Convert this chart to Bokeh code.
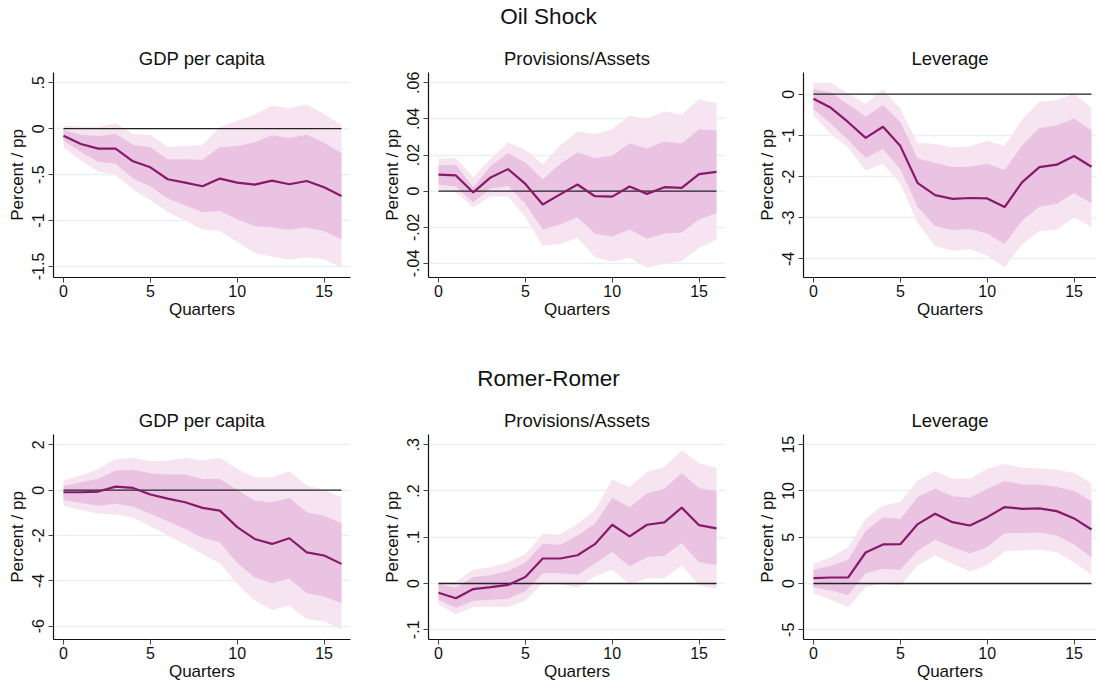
from bokeh.plotting import figure
from bokeh.layouts import column, row
from bokeh.models import FixedTicker, Label, Range1d
from bokeh.embed import file_html
from bokeh.resources import INLINE

FONT = "Liberation Sans"

quarters = list(range(17))
zero_line = [0] * 17

# ---------------- Oil Shock ----------------
oil_gdp_irf = [-0.076, -0.167, -0.217, -0.217, -0.355, -0.42, -0.55, -0.587, -0.627, -0.543, -0.587, -0.609, -0.565, -0.605, -0.569, -0.638, -0.732]
oil_gdp_in_hi = [-0.014, -0.065, -0.08, -0.058, -0.174, -0.203, -0.333, -0.333, -0.337, -0.203, -0.188, -0.149, -0.072, -0.1, -0.065, -0.152, -0.268]
oil_gdp_in_lo = [-0.13, -0.254, -0.359, -0.38, -0.543, -0.63, -0.76, -0.833, -0.909, -0.895, -0.986, -1.06, -1.076, -1.10, -1.076, -1.116, -1.203]
oil_gdp_out_hi = [0.033, 0.02, 0.018, 0.058, -0.058, -0.069, -0.196, -0.188, -0.174, 0.014, 0.087, 0.152, 0.25, 0.225, 0.264, 0.159, 0.043]
oil_gdp_out_lo = [-0.203, -0.348, -0.467, -0.504, -0.663, -0.775, -0.906, -1.0, -1.098, -1.116, -1.232, -1.355, -1.39, -1.428, -1.40, -1.42, -1.514]

oil_prov_irf = [0.0092, 0.0087, -0.0007, 0.0076, 0.0122, 0.004, -0.0074, -0.0018, 0.0037, -0.0028, -0.003, 0.0026, -0.0015, 0.0022, 0.0018, 0.0094, 0.0107]
oil_prov_in_hi = [0.0142, 0.0146, 0.0022, 0.014, 0.021, 0.0159, 0.0066, 0.0151, 0.0214, 0.0183, 0.0196, 0.0264, 0.0236, 0.0275, 0.0264, 0.0343, 0.0336]
oil_prov_in_lo = [0.0037, 0.0026, -0.0061, 0.0015, 0.0028, -0.007, -0.0212, -0.0185, -0.0144, -0.0236, -0.0251, -0.0212, -0.0264, -0.0234, -0.0229, -0.0157, -0.0122]
oil_prov_out_hi = [0.0179, 0.0183, 0.0077, 0.0179, 0.0269, 0.0229, 0.0151, 0.0253, 0.033, 0.0317, 0.0343, 0.0417, 0.04, 0.0443, 0.0424, 0.0507, 0.0487]
oil_prov_out_lo = [0.0007, -0.0006, -0.0092, -0.003, -0.003, -0.0144, -0.0303, -0.0292, -0.0258, -0.0365, -0.0391, -0.0369, -0.0424, -0.0402, -0.0386, -0.0314, -0.0269]

oil_lev_irf = [-0.11, -0.33, -0.68, -1.06, -0.79, -1.26, -2.16, -2.45, -2.54, -2.52, -2.53, -2.74, -2.14, -1.77, -1.71, -1.50, -1.76]
oil_lev_in_hi = [0.12, 0.04, -0.25, -0.54, -0.26, -0.68, -1.56, -1.67, -1.77, -1.76, -1.69, -1.84, -1.25, -0.82, -0.76, -0.59, -0.88]
oil_lev_in_lo = [-0.36, -0.72, -1.11, -1.55, -1.33, -1.82, -2.74, -3.2, -3.30, -3.27, -3.38, -3.64, -3.07, -2.73, -2.66, -2.40, -2.65]
oil_lev_out_hi = [0.28, 0.28, 0.01, -0.23, 0.12, -0.36, -1.18, -1.21, -1.29, -1.27, -1.13, -1.26, -0.62, -0.19, -0.14, 0.01, -0.32]
oil_lev_out_lo = [-0.52, -0.96, -1.30, -1.85, -1.69, -2.18, -3.13, -3.68, -3.80, -3.76, -3.92, -4.20, -3.64, -3.33, -3.29, -2.99, -3.23]

# ---------------- Romer-Romer ----------------
rr_gdp_irf = [-0.09, -0.09, -0.06, 0.16, 0.10, -0.19, -0.37, -0.53, -0.78, -0.90, -1.63, -2.15, -2.37, -2.12, -2.74, -2.88, -3.25]
rr_gdp_in_hi = [0.19, 0.35, 0.51, 0.87, 0.90, 0.75, 0.69, 0.69, 0.49, 0.51, 0.01, -0.46, -0.53, -0.34, -0.97, -1.13, -1.46]
rr_gdp_in_lo = [-0.43, -0.57, -0.69, -0.60, -0.72, -1.04, -1.37, -1.71, -2.10, -2.31, -3.22, -3.84, -4.10, -3.91, -4.54, -4.69, -4.99]
rr_gdp_out_hi = [0.43, 0.66, 0.94, 1.38, 1.43, 1.28, 1.31, 1.43, 1.31, 1.43, 0.94, 0.57, 0.57, 0.84, 0.21, 0.01, -0.31]
rr_gdp_out_lo = [-0.69, -0.87, -1.04, -1.07, -1.22, -1.60, -1.99, -2.40, -2.81, -3.22, -4.13, -4.87, -5.28, -5.09, -5.68, -5.78, -6.16]

rr_prov_irf = [-0.020, -0.032, -0.012, -0.008, -0.003, 0.014, 0.054, 0.054, 0.061, 0.085, 0.127, 0.102, 0.127, 0.132, 0.164, 0.126, 0.119]
rr_prov_in_hi = [-0.001, -0.009, 0.014, 0.018, 0.027, 0.045, 0.086, 0.084, 0.104, 0.129, 0.185, 0.165, 0.195, 0.205, 0.239, 0.206, 0.20]
rr_prov_in_lo = [-0.035, -0.053, -0.037, -0.035, -0.033, -0.017, 0.022, 0.022, 0.019, 0.043, 0.068, 0.037, 0.057, 0.060, 0.087, 0.046, 0.040]
rr_prov_out_hi = [0.004, 0.003, 0.030, 0.035, 0.046, 0.064, 0.107, 0.106, 0.129, 0.159, 0.225, 0.208, 0.241, 0.252, 0.288, 0.260, 0.250]
rr_prov_out_lo = [-0.045, -0.067, -0.051, -0.050, -0.051, -0.037, 0.001, -0.001, -0.009, 0.015, 0.030, -0.002, 0.012, 0.012, 0.039, -0.004, -0.012]

rr_lev_irf = [0.58, 0.65, 0.65, 3.35, 4.22, 4.25, 6.42, 7.53, 6.63, 6.27, 7.17, 8.26, 8.07, 8.11, 7.82, 7.03, 5.84]
rr_lev_in_hi = [1.48, 1.91, 2.56, 5.66, 7.17, 6.96, 9.34, 10.27, 9.44, 9.26, 10.24, 11.07, 10.71, 10.71, 10.42, 9.99, 8.90]
rr_lev_in_lo = [-0.40, -0.76, -1.23, 1.12, 1.59, 1.48, 3.57, 4.72, 3.93, 3.28, 3.93, 5.44, 5.44, 5.52, 5.19, 4.22, 2.85]
rr_lev_out_hi = [2.13, 2.85, 3.93, 6.99, 8.44, 8.80, 11.14, 12.15, 11.32, 11.32, 12.40, 12.94, 12.51, 12.44, 12.29, 11.93, 10.85]
rr_lev_out_lo = [-1.05, -1.77, -2.56, -0.40, 0.04, -0.22, 1.95, 3.03, 2.13, 1.33, 1.95, 3.50, 3.57, 3.64, 3.39, 2.31, 0.97]

# ---------------- ticks ----------------
x_ticks = [0, 5, 10, 15]
gdp_oil_ticks = [-1.5, -1, -0.5, 0, 0.5]
gdp_oil_labels = ["-1.5", "-1", "-.5", "0", ".5"]
prov_oil_ticks = [-0.04, -0.02, 0, 0.02, 0.04, 0.06]
prov_oil_labels = ["-.04", "-.02", "0", ".02", ".04", ".06"]
lev_oil_ticks = [-4, -3, -2, -1, 0]
lev_oil_labels = ["-4", "-3", "-2", "-1", "0"]
gdp_rr_ticks = [-6, -4, -2, 0, 2]
gdp_rr_labels = ["-6", "-4", "-2", "0", "2"]
prov_rr_ticks = [-0.1, 0, 0.1, 0.2, 0.3]
prov_rr_labels = ["-.1", "0", ".1", ".2", ".3"]
lev_rr_ticks = [-5, 0, 5, 10, 15]
lev_rr_labels = ["-5", "0", "5", "10", "15"]

LINE_COL = "#861a69"
INNER_COL = "#eac3e2"
OUTER_COL = "#f7e4f1"
GRID_COL = "#e8f0f1"


def panel(title, irf, in_lo, in_hi, out_lo, out_hi, yticks, ylabels, yrange,
          frame_w, x_end, border_bottom):
    p = figure(frame_width=frame_w, frame_height=205,
               min_border_left=53, min_border_right=(25 if frame_w == 297 else 0),
               min_border_top=34, min_border_bottom=border_bottom,
               x_range=Range1d(-0.576, x_end), y_range=Range1d(*yrange),
               toolbar_location=None, output_backend="svg")
    p.title.text = title
    p.title.align = "center"
    p.title.text_font = FONT
    p.title.text_font_size = "18.5px"
    p.title.text_font_style = "normal"
    p.title.text_color = "#111111"
    p.title.standoff = 7
    p.outline_line_color = None
    p.background_fill_color = "white"

    p.varea(x=quarters, y1=out_lo, y2=out_hi, fill_color=OUTER_COL)
    p.varea(x=quarters, y1=in_lo, y2=in_hi, fill_color=INNER_COL)
    p.line(quarters, zero_line, line_color="#222222", line_width=1.3)
    p.line(quarters, irf, line_color=LINE_COL, line_width=2.2)

    p.xgrid.visible = False
    p.ygrid.ticker = FixedTicker(ticks=yticks)
    p.ygrid.grid_line_color = GRID_COL
    p.ygrid.grid_line_width = 1.3

    xa = p.xaxis[0]
    xa.ticker = FixedTicker(ticks=x_ticks)
    xa.axis_label = "Quarters"
    ya = p.yaxis[0]
    ya.ticker = FixedTicker(ticks=yticks)
    ya.major_label_overrides = {t: l for t, l in zip(yticks, ylabels)}
    ya.axis_label = "Percent / pp"
    ya.major_label_orientation = "vertical"
    for ax in (xa, ya):
        ax.axis_line_color = "#111111"
        ax.axis_line_width = 1.2
        ax.major_tick_line_color = "#444444"
        ax.major_tick_out = 5
        ax.major_tick_in = 0
        ax.minor_tick_out = 0
        ax.minor_tick_in = 0
        ax.major_label_text_font = FONT
        ax.major_label_text_font_size = "16px"
        ax.major_label_text_color = "#111111"
        ax.axis_label_text_font = FONT
        ax.axis_label_text_font_size = "17px"
        ax.axis_label_text_font_style = "normal"
        ax.axis_label_text_color = "#111111"
    xa.major_label_standoff = 2
    xa.axis_label_standoff = 0
    ya.major_label_standoff = 4
    ya.axis_label_standoff = 3
    return p


def header(text, h, y_from_top):
    p = figure(width=1096, height=h, x_range=Range1d(0, 1), y_range=Range1d(0, h),
               min_border=0, toolbar_location=None, output_backend="svg")
    p.axis.visible = False
    p.grid.visible = False
    p.outline_line_color = None
    p.add_layout(Label(x=0.5, y=h - y_from_top, text=text, text_align="center",
                       text_baseline="middle", text_font=FONT, text_font_size="22.5px",
                       text_color="#111111"))
    return p


p1 = panel("GDP per capita", oil_gdp_irf, oil_gdp_in_lo, oil_gdp_in_hi, oil_gdp_out_lo, oil_gdp_out_hi,
           gdp_oil_ticks, gdp_oil_labels, (-1.62, 0.612), 297, 16.52, 53)
p2 = panel("Provisions/Assets", oil_prov_irf, oil_prov_in_lo, oil_prov_in_hi, oil_prov_out_lo, oil_prov_out_hi,
           prov_oil_ticks, prov_oil_labels, (-0.0478, 0.0657), 297, 16.52, 53)
p3 = panel("Leverage", oil_lev_irf, oil_lev_in_lo, oil_lev_in_hi, oil_lev_out_lo, oil_lev_out_hi,
           lev_oil_ticks, lev_oil_labels, (-4.45, 0.527), 293, 16.29, 53)
p4 = panel("GDP per capita", rr_gdp_irf, rr_gdp_in_lo, rr_gdp_in_hi, rr_gdp_out_lo, rr_gdp_out_hi,
           gdp_rr_ticks, gdp_rr_labels, (-6.586, 2.457), 297, 16.52, 44)
p5 = panel("Provisions/Assets", rr_prov_irf, rr_prov_in_lo, rr_prov_in_hi, rr_prov_out_lo, rr_prov_out_hi,
           prov_rr_ticks, prov_rr_labels, (-0.121, 0.322), 297, 16.52, 44)
p6 = panel("Leverage", rr_lev_irf, rr_lev_in_lo, rr_lev_in_hi, rr_lev_out_lo, rr_lev_out_hi,
           lev_rr_ticks, lev_rr_labels, (-6.05, 16.1), 293, 16.29, 44)

h1 = header("Oil Shock", 38, 16)
h2 = header("Romer-Romer", 70, 48)

layout = column(h1, row(p1, p2, p3, spacing=0), h2, row(p4, p5, p6, spacing=0), spacing=0)

with open("out.html", "w") as f:
    f.write(file_html(layout, INLINE))
